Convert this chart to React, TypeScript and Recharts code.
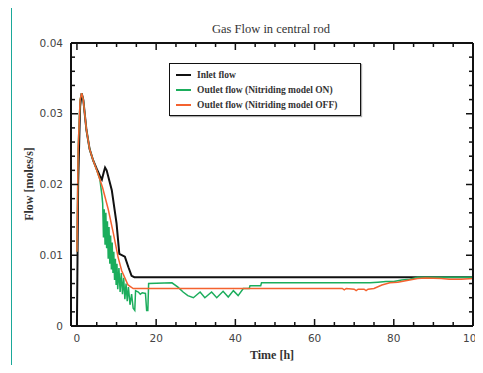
import { Line, LineChart, XAxis, YAxis } from 'recharts'

// time [h], flow [moles/s]
const inletFlow: [number, number][] = [
  [0, 0], [0.3, 0.02], [0.8, 0.031], [1.2, 0.0329], [1.6, 0.032], [2.4, 0.0277],
  [3.2, 0.025], [4.1, 0.0234], [5, 0.0222], [5.8, 0.0212], [6.3, 0.0207], [6.8, 0.0218],
  [7.1, 0.0224], [7.5, 0.022], [8.2, 0.0205], [8.8, 0.0192], [10, 0.0145], [10.7, 0.0102],
  [12.1, 0.0098], [13, 0.0083], [13.8, 0.0071], [14.5, 0.0069], [100, 0.0069],
]

const outletFlowOn: [number, number][] = [
  [0, 0.0105], [0.3, 0.025], [0.8, 0.032], [1.2, 0.0329], [1.6, 0.032], [2.4, 0.0277],
  [3.2, 0.025], [4.1, 0.0234], [5, 0.022], [5.8, 0.0207], [6.3, 0.0185],
  [6.5, 0.0173], [6.7, 0.0125], [6.9, 0.0165], [7.1, 0.0115], [7.3, 0.016], [7.5, 0.011],
  [7.7, 0.0148], [7.9, 0.0095], [8.1, 0.014], [8.3, 0.0088], [8.5, 0.0128], [8.7, 0.008],
  [8.9, 0.0118], [9.1, 0.0075], [9.3, 0.0105], [9.5, 0.0065], [9.7, 0.0095], [9.9, 0.0058],
  [10.1, 0.0088], [10.3, 0.0052], [10.6, 0.0082], [10.9, 0.0048], [11.2, 0.0075],
  [11.5, 0.0045], [11.8, 0.0068], [12.1, 0.0038], [12.4, 0.006], [12.7, 0.0035],
  [13, 0.0055], [13.4, 0.003], [13.8, 0.0045], [14.2, 0.0025], [14.6, 0.0022],
  [14.8, 0.005], [15.5, 0.0048], [16, 0.0045], [16.5, 0.0047], [17.3, 0.0046],
  [17.6, 0.0022], [17.9, 0.0022], [18.1, 0.006], [24, 0.0061], [25.5, 0.0055],
  [26.8, 0.0048], [28, 0.0043], [29.4, 0.004], [31.1, 0.0048], [32.3, 0.004], [34, 0.0048],
  [35.3, 0.004], [36.9, 0.0049], [38.2, 0.0041], [39.5, 0.005], [40.7, 0.0043],
  [42, 0.0053], [43.5, 0.0053], [43.7, 0.0057], [46.4, 0.0057], [46.6, 0.0061],
  [74, 0.0061], [76, 0.0062], [78, 0.0063], [80, 0.0063], [82, 0.0065], [84, 0.0066],
  [86, 0.0069], [100, 0.0069],
]

const outletFlowOff: [number, number][] = [
  [0, 0.0105], [0.3, 0.025], [0.8, 0.032], [1.2, 0.0329], [1.6, 0.032], [2.4, 0.0277],
  [3.2, 0.025], [4.1, 0.0234], [5, 0.022], [5.8, 0.0207], [6.5, 0.0195], [7.9, 0.0165],
  [9.2, 0.0131], [10.4, 0.0097], [11.3, 0.0078], [12.1, 0.0068], [12.9, 0.0058],
  [14.2, 0.0053], [67, 0.0053], [67.5, 0.0051], [68, 0.0053], [70, 0.0052], [70.5, 0.005],
  [71, 0.0052], [72.5, 0.0052], [73, 0.005], [73.5, 0.0052], [75, 0.0053], [77, 0.0058],
  [79, 0.0061], [81, 0.0062], [82, 0.0063], [84, 0.0065], [86, 0.0067], [88, 0.0068],
  [92, 0.0067], [94, 0.0066], [97, 0.0066], [100, 0.0067],
]

const seriesNames = ['Inlet flow', 'Outlet flow (Nitriding model ON)', 'Outlet flow (Nitriding model OFF)']
const seriesColors = ['#111', '#1bad5c', '#f4622f']

const xTicks = [0, 5, 10, 15, 20, 25, 30, 35, 40, 45, 50, 55, 60, 65, 70, 75, 80, 85, 90, 95, 100]
const xTickLabels = ['0', '20', '40', '60', '80', '100']
const yTicks = [
  0, 0.002, 0.004, 0.006, 0.008, 0.01, 0.012, 0.014, 0.016, 0.018, 0.02,
  0.022, 0.024, 0.026, 0.028, 0.03, 0.032, 0.034, 0.036, 0.038, 0.04,
]
const yTickLabels = ['0', '0.01', '0.02', '0.03', '0.04']

// one table keyed by time, gaps bridged with connectNulls
const valueAt = (rows: [number, number][], t: number) => {
  const hit = rows.find((r) => r[0] === t)
  return hit ? hit[1] : null
}
const allTimes = Array.from(
  new Set([...inletFlow, ...outletFlowOn, ...outletFlowOff].map((r) => r[0]))
).sort((a, b) => a - b)
const tableData = allTimes.map((t) => ({
  t,
  inlet: valueAt(inletFlow, t),
  on: valueAt(outletFlowOn, t),
  off: valueAt(outletFlowOff, t),
}))

const tickFont = { fontFamily: 'DejaVu Sans', fontSize: 10.5, fill: '#444' }
const serif = { fontFamily: 'Liberation Serif', color: '#333', whiteSpace: 'nowrap' as const }

const findLabel = (labels: string[], v: number) => labels.find((s) => Math.abs(Number(s) - v) < 1e-9)

function makeTick(side: 'bottom' | 'top' | 'left' | 'right') {
  return (props: any) => {
    const { x, y, payload } = props
    const v = payload.value as number
    const label = side === 'left' || side === 'right' ? findLabel(yTickLabels, v) : findLabel(xTickLabels, v)
    const len = label !== undefined ? 7 : 4
    if (side === 'bottom' || side === 'top') {
      const dir = side === 'bottom' ? -1 : 1
      return (
        <g>
          <line x1={x} x2={x} y1={y} y2={y + dir * len} stroke="#111" strokeWidth={1.5} />
          {side === 'bottom' && label !== undefined && (
            <text x={x} y={y + 12} dy="0.35em" textAnchor="middle" {...tickFont}>
              {label}
            </text>
          )}
        </g>
      )
    }
    const dir = side === 'left' ? 1 : -1
    return (
      <g>
        <line x1={x} x2={x + dir * len} y1={y} y2={y} stroke="#111" strokeWidth={1.5} />
        {side === 'left' && label !== undefined && (
          <text x={x - 8} y={y} dy="0.35em" textAnchor="end" {...tickFont}>
            {label}
          </text>
        )}
      </g>
    )
  }
}

const bottomTick = makeTick('bottom')
const topTick = makeTick('top')
const leftTick = makeTick('left')
const rightTick = makeTick('right')

function LegendBox() {
  return (
    <div
      style={{
        position: 'absolute',
        left: 169,
        top: 63,
        border: '1.5px solid #111',
        boxShadow: '1px 1px 1px #aaa',
        background: '#fff',
        padding: '3px 6px',
        width: 178,
      }}
    >
      {seriesNames.map((name, i) => (
        <div key={name} style={{ display: 'flex', alignItems: 'center', height: 15 }}>
          <div style={{ width: 15, height: 2, background: seriesColors[i], marginRight: 6 }} />
          <span style={{ ...serif, fontWeight: 'bold', fontSize: 9.5 }}>{name}</span>
        </div>
      ))}
    </div>
  )
}

export default function App() {
  return (
    <div style={{ position: 'relative', margin: -8, width: 483, height: 373, overflow: 'hidden', background: '#fff' }}>
      <LineChart
        width={483}
        height={373}
        data={tableData}
        margin={{ top: 23, right: 0, bottom: 12, left: 31 }}
      >
        <XAxis
          xAxisId="b"
          dataKey="t"
          type="number"
          domain={[-1.5, 100]}
          ticks={xTicks}
          interval={0}
          height={35}
          tickSize={0}
          tickMargin={0}
          tickLine={false}
          tick={bottomTick}
          axisLine={{ stroke: '#111', strokeWidth: 2 }}
          allowDataOverflow
        />
        <XAxis
          xAxisId="t"
          dataKey="t"
          orientation="top"
          type="number"
          domain={[-1.5, 100]}
          ticks={xTicks}
          interval={0}
          height={20}
          tickSize={0}
          tickMargin={0}
          tickLine={false}
          tick={topTick}
          axisLine={{ stroke: '#111', strokeWidth: 2 }}
          allowDataOverflow
        />
        <YAxis
          yAxisId="l"
          type="number"
          domain={[0, 0.04]}
          ticks={yTicks}
          interval={0}
          width={40}
          tickSize={0}
          tickMargin={0}
          tickLine={false}
          tick={leftTick}
          axisLine={{ stroke: '#111', strokeWidth: 2 }}
          allowDataOverflow
        />
        <YAxis
          yAxisId="r"
          orientation="right"
          type="number"
          domain={[0, 0.04]}
          ticks={yTicks}
          interval={0}
          width={10}
          tickSize={0}
          tickMargin={0}
          tickLine={false}
          tick={rightTick}
          axisLine={{ stroke: '#111', strokeWidth: 2 }}
          allowDataOverflow
        />
        <Line
          xAxisId="b"
          yAxisId="l"
          dataKey="inlet"
          name={seriesNames[0]}
          stroke={seriesColors[0]}
          strokeWidth={2}
          dot={false}
          connectNulls
          isAnimationActive={false}
        />
        <Line
          xAxisId="b"
          yAxisId="l"
          dataKey="on"
          name={seriesNames[1]}
          stroke={seriesColors[1]}
          strokeWidth={1.5}
          dot={false}
          connectNulls
          isAnimationActive={false}
        />
        <Line
          xAxisId="b"
          yAxisId="l"
          dataKey="off"
          name={seriesNames[2]}
          stroke={seriesColors[2]}
          strokeWidth={1.5}
          dot={false}
          connectNulls
          isAnimationActive={false}
        />
      </LineChart>
      <div
        style={{
          position: 'absolute',
          left: 11,
          top: 6,
          width: 472,
          height: 367,
          borderTop: '1px solid #1aa899',
          borderLeft: '1px solid #1aa899',
          pointerEvents: 'none',
        }}
      />
      <div style={{ ...serif, position: 'absolute', left: 171, width: 200, top: 21, textAlign: 'center', fontSize: 12.5, lineHeight: '16px' }}>
        Gas Flow in central rod
      </div>
      <div style={{ ...serif, position: 'absolute', left: 172, width: 200, top: 347, textAlign: 'center', fontSize: 12, fontWeight: 'bold', lineHeight: '16px' }}>
        Time [h]
      </div>
      <div
        style={{
          ...serif,
          position: 'absolute',
          left: 29,
          top: 184,
          transform: 'translate(-50%, -50%) rotate(-90deg)',
          fontSize: 12,
          fontWeight: 'bold',
          lineHeight: '16px',
        }}
      >
        Flow [moles/s]
      </div>
      <LegendBox />
    </div>
  )
}
